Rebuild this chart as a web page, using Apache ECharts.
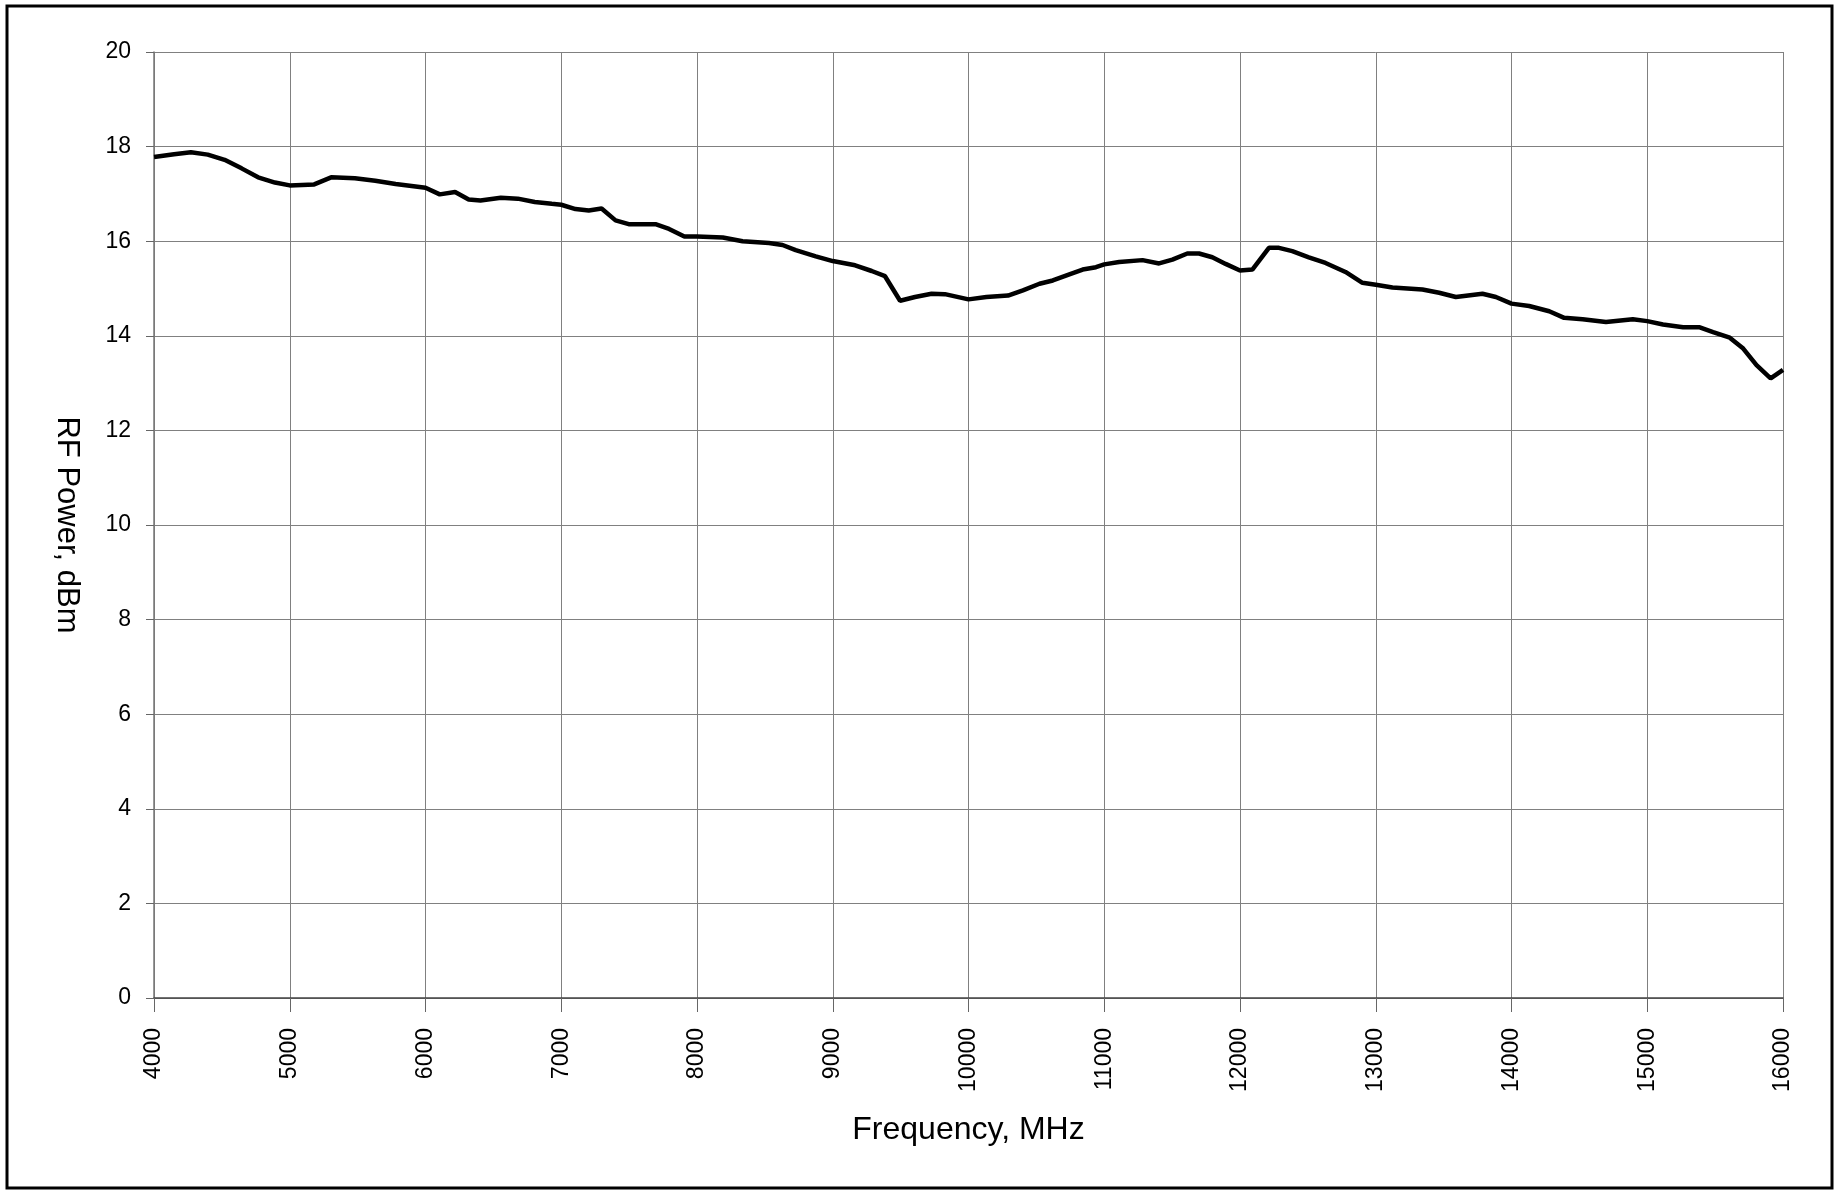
<!DOCTYPE html>
<html>
<head>
<meta charset="utf-8">
<script src="https://cdn.jsdelivr.net/npm/echarts@6/dist/echarts.min.js"></script>
<style>
html,body{margin:0;padding:0;background:#fff;}
#chart{width:1837px;height:1190px;}
</style>
</head>
<body>
<div id="chart"></div>
<script>
const frequencyMHz = [4000,4148,4272,4396,4520,4645,4767,4891,5000,5180,5305,5480,5630,5780,6000,6105,6218,6318,6405,6555,6680,6805,6930,7000,7105,7203,7297,7400,7497,7694,7794,7907,8000,8190,8336,8530,8630,8727,8875,9000,9165,9287,9385,9496,9606,9728,9826,10000,10132,10291,10401,10523,10621,10743,10841,10939,11000,11110,11282,11404,11502,11612,11698,11796,11894,12000,12091,12213,12287,12385,12507,12630,12777,12902,13000,13123,13344,13467,13590,13786,13885,14000,14130,14278,14388,14524,14696,14894,15000,15116,15264,15387,15485,15608,15707,15805,15909,16000];
const rfPowerDbm = [17.78,17.84,17.88,17.83,17.72,17.54,17.35,17.24,17.18,17.20,17.35,17.33,17.28,17.21,17.13,16.99,17.04,16.88,16.86,16.92,16.90,16.83,16.79,16.77,16.68,16.65,16.69,16.44,16.36,16.36,16.26,16.10,16.10,16.08,16.00,15.96,15.92,15.81,15.68,15.58,15.49,15.37,15.26,14.74,14.82,14.89,14.88,14.77,14.82,14.85,14.96,15.10,15.17,15.30,15.40,15.45,15.51,15.56,15.60,15.53,15.61,15.74,15.74,15.66,15.52,15.38,15.40,15.86,15.86,15.79,15.66,15.54,15.35,15.12,15.08,15.02,14.98,14.91,14.82,14.89,14.82,14.68,14.63,14.52,14.38,14.35,14.29,14.35,14.31,14.24,14.18,14.18,14.08,13.96,13.73,13.38,13.10,13.28];
const xTicks = [4000,5000,6000,7000,8000,9000,10000,11000,12000,13000,14000,15000,16000];
const yTicks = [0,2,4,6,8,10,12,14,16,18,20];
const xTitle = 'Frequency, MHz';
const yTitle = 'RF Power, dBm';

const font = '"Liberation Sans", Arial, sans-serif';
const chart = echarts.init(document.getElementById('chart'), null, {renderer:'canvas'});
const seriesData = frequencyMHz.map((f,i)=>[f, rfPowerDbm[i]]);

chart.setOption({
  animation:false,
  backgroundColor:'#fff',
  graphic:[{
    type:'rect',
    shape:{x:7, y:6, width:1825, height:1182},
    style:{fill:'none', stroke:'#000', lineWidth:3},
    silent:true, z:100
  }],
  grid:{left:154, right:54, top:52, bottom:192, containLabel:false},
  xAxis:{
    type:'value',
    min:xTicks[0], max:xTicks[xTicks.length-1], interval:1000,
    name:xTitle, nameLocation:'middle', nameGap:116,
    nameTextStyle:{fontFamily:font, fontSize:32, color:'#000'},
    axisLine:{show:true, onZero:false, lineStyle:{color:'#444', width:1.5}},
    axisTick:{show:true, length:14, lineStyle:{color:'#666', width:1}},
    axisLabel:{rotate:90, margin:30, fontFamily:font, fontSize:23, color:'#000', padding:[11,0,0,0],
      formatter:(v)=>String(v)},
    splitLine:{show:true, lineStyle:{color:'#808080', width:1}}
  },
  yAxis:{
    type:'value',
    min:yTicks[0], max:yTicks[yTicks.length-1], interval:2,
    name:yTitle, nameLocation:'middle', nameGap:72, nameRotate:-90,
    nameTextStyle:{fontFamily:font, fontSize:31, color:'#000'},
    axisLine:{show:true, lineStyle:{color:'#777', width:1.5}},
    axisTick:{show:true, length:8, lineStyle:{color:'#666', width:1}},
    axisLabel:{margin:23, fontFamily:font, fontSize:23, color:'#000'},
    splitLine:{show:true, lineStyle:{color:'#808080', width:1}}
  },
  series:[{
    type:'line',
    data:seriesData,
    showSymbol:false,
    smooth:false,
    lineStyle:{color:'#000', width:4.5},
    z:5
  }]
});
</script>
</body>
</html>
